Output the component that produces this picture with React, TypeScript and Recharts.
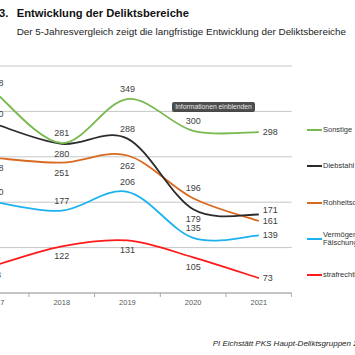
import React from "react"
import { LineChart, Line, XAxis, YAxis, CartesianGrid, LabelList } from "recharts"

// values
const years = ["2017", "2018", "2019", "2020", "2021"]
const sonstige = [358, 281, 349, 300, 298]
const diebstahl = [310, 280, 288, 179, 171]
const rohheit = [258, 251, 262, 196, 161]
const vermoegen = [190, 177, 206, 135, 139]
const nebengesetze = [93, 122, 131, 105, 73]
const yTicks = [50, 120, 190, 260, 330, 400]

const data = years.map((year, i) => ({
    year,
    sonstige: sonstige[i],
    diebstahl: diebstahl[i],
    rohheit: rohheit[i],
    vermoegen: vermoegen[i],
    nebengesetze: nebengesetze[i],
}))

const FONT = '"Liberation Sans", Arial, sans-serif'
const HALF_BAND = 32.85

// where the data label sits for each point (t = above, b = below, r = right of point)
const series = [
    { key: "nebengesetze", color: "#ff1a1a", label: "strafrechtliche Nebengesetze", pos: ["b", "b", "b", "b", "r"] },
    { key: "vermoegen", color: "#1cb2ef", label: "Vermögens- und|Fälschungsdelikte", pos: ["t", "t", "t", "t", "r"] },
    { key: "rohheit", color: "#d8691f", label: "Rohheitsdelikte", pos: ["b", "b", "b", "t", "r"] },
    { key: "diebstahl", color: "#2b2b2b", label: "Diebstahl", pos: ["t", "b", "t", "b", "ru"] },
    { key: "sonstige", color: "#77b94f", label: "Sonstige", pos: ["t", "t", "t", "t", "r"] },
]

// Excel-like smoothed line (cubic bezier through points, catmull-rom style tangents)
const excelCurve = (context: any) => {
    let pts: number[][] = []
    return {
        areaStart() {},
        areaEnd() {},
        lineStart() {
            pts = []
        },
        point(x: number, y: number) {
            pts.push([x, y])
        },
        lineEnd() {
            const n = pts.length
            if (!n) return
            context.moveTo(pts[0][0], pts[0][1])
            for (let i = 0; i < n - 1; i++) {
                const p0 = pts[Math.max(i - 1, 0)]
                const p1 = pts[i]
                const p2 = pts[i + 1]
                const p3 = pts[Math.min(i + 2, n - 1)]
                context.bezierCurveTo(
                    p1[0] + (p2[0] - p0[0]) / 6,
                    p1[1] + (p2[1] - p0[1]) / 6,
                    p2[0] - (p3[0] - p1[0]) / 6,
                    p2[1] - (p3[1] - p1[1]) / 6,
                    p2[0],
                    p2[1]
                )
            }
        },
    }
}

const makeLabel = (pos: string[]) => (props: any) => {
    const { x, y, value, index } = props
    const p = pos[index]
    let tx = x
    let ty = y
    let anchor: "middle" | "start" = "middle"
    if (p === "t") ty = y - 10
    if (p === "b") ty = y + 10
    if (p === "r" || p === "ru") {
        tx = x + 4
        anchor = "start"
        if (p === "ru") ty = y - 5
    }
    return (
        <text x={tx} y={ty} textAnchor={anchor} dominantBaseline="central" fontSize={9} fill="#404040" fontFamily={FONT}>
            {value}
        </text>
    )
}

const XTick = (props: any) => {
    const { x, y, payload } = props
    return (
        <g>
            <line x1={x + HALF_BAND} x2={x + HALF_BAND} y1={y} y2={y + 4} stroke="#a6a6a6" />
            <text x={x} y={y + 9} textAnchor="middle" dominantBaseline="central" fontSize={7.5} fill="#595959" fontFamily={FONT}>
                {payload.value}
            </text>
        </g>
    )
}

const legendY = [275, 239, 203, 166, 130]

export default function App() {
    return (
        <div
            style={{
                position: "absolute",
                left: 0,
                top: 0,
                width: 355,
                height: 355,
                overflow: "hidden",
                background: "#fff",
                fontFamily: FONT,
            }}
        >
            <div style={{ position: "absolute", left: -1, top: 8, fontSize: 11.2, fontWeight: "bold", color: "#111", lineHeight: 1, whiteSpace: "nowrap" }}>
                3.
            </div>
            <div style={{ position: "absolute", left: 16.7, top: 8, fontSize: 11.2, fontWeight: "bold", color: "#111", lineHeight: 1, whiteSpace: "nowrap" }}>
                Entwicklung der Deliktsbereiche
            </div>
            <div style={{ position: "absolute", left: 16.7, top: 27, fontSize: 9.9, color: "#222", lineHeight: 1, whiteSpace: "nowrap" }}>
                Der 5-Jahresvergleich zeigt die langfristige Entwicklung der Deliktsbereiche
            </div>

            <div style={{ position: "absolute", left: -40, top: 0 }}>
                <LineChart width={332} height={320} data={data} margin={{ top: 66, right: 0.3, bottom: 0, left: 3.2 }}>
                    <CartesianGrid vertical={false} stroke="#c6c6c6" />
                    <XAxis
                        dataKey="year"
                        height={27}
                        padding={{ left: HALF_BAND, right: HALF_BAND }}
                        tickLine={false}
                        tickSize={0}
                        tickMargin={0}
                        interval={0}
                        axisLine={{ stroke: "#a6a6a6" }}
                        tick={<XTick />}
                    />
                    <YAxis hide domain={[50, 400]} ticks={yTicks} />
                    {series.map((s) => (
                        <Line
                            key={s.key}
                            dataKey={s.key}
                            type={excelCurve as any}
                            stroke={s.color}
                            strokeWidth={1.8}
                            dot={false}
                            activeDot={false}
                            isAnimationActive={false}
                        >
                            <LabelList dataKey={s.key} content={makeLabel(s.pos)} />
                        </Line>
                    ))}
                </LineChart>
            </div>

            <div
                style={{
                    position: "absolute",
                    left: 172,
                    top: 102,
                    width: 83,
                    height: 9.5,
                    background: "rgba(58,58,58,0.9)",
                    borderRadius: 2,
                    color: "#e8e8e8",
                    fontSize: 6.8,
                    lineHeight: "9.5px",
                    textAlign: "center",
                    whiteSpace: "nowrap",
                }}
            >
                Informationen einblenden
            </div>

            {series.map((s, i) => {
                const lines = s.label.split("|")
                const h = lines.length * 8.5
                return (
                    <div key={s.key} style={{ position: "absolute", left: 307, top: legendY[i] - h / 2, height: h, whiteSpace: "nowrap" }}>
                        <div style={{ position: "absolute", left: 0, top: h / 2 - 1, width: 15, height: 2, background: s.color }} />
                        <div style={{ position: "absolute", left: 16, top: 0, fontSize: 7.5, lineHeight: "8.5px", color: "#333" }}>
                            {lines.map((l) => (
                                <div key={l}>{l}</div>
                            ))}
                        </div>
                    </div>
                )
            })}

            <div style={{ position: "absolute", left: 212.7, top: 339.5, fontSize: 8, fontStyle: "italic", color: "#222", lineHeight: 1, whiteSpace: "nowrap" }}>
                PI Eichstätt PKS Haupt-Deliktsgruppen 2021
            </div>
        </div>
    )
}
